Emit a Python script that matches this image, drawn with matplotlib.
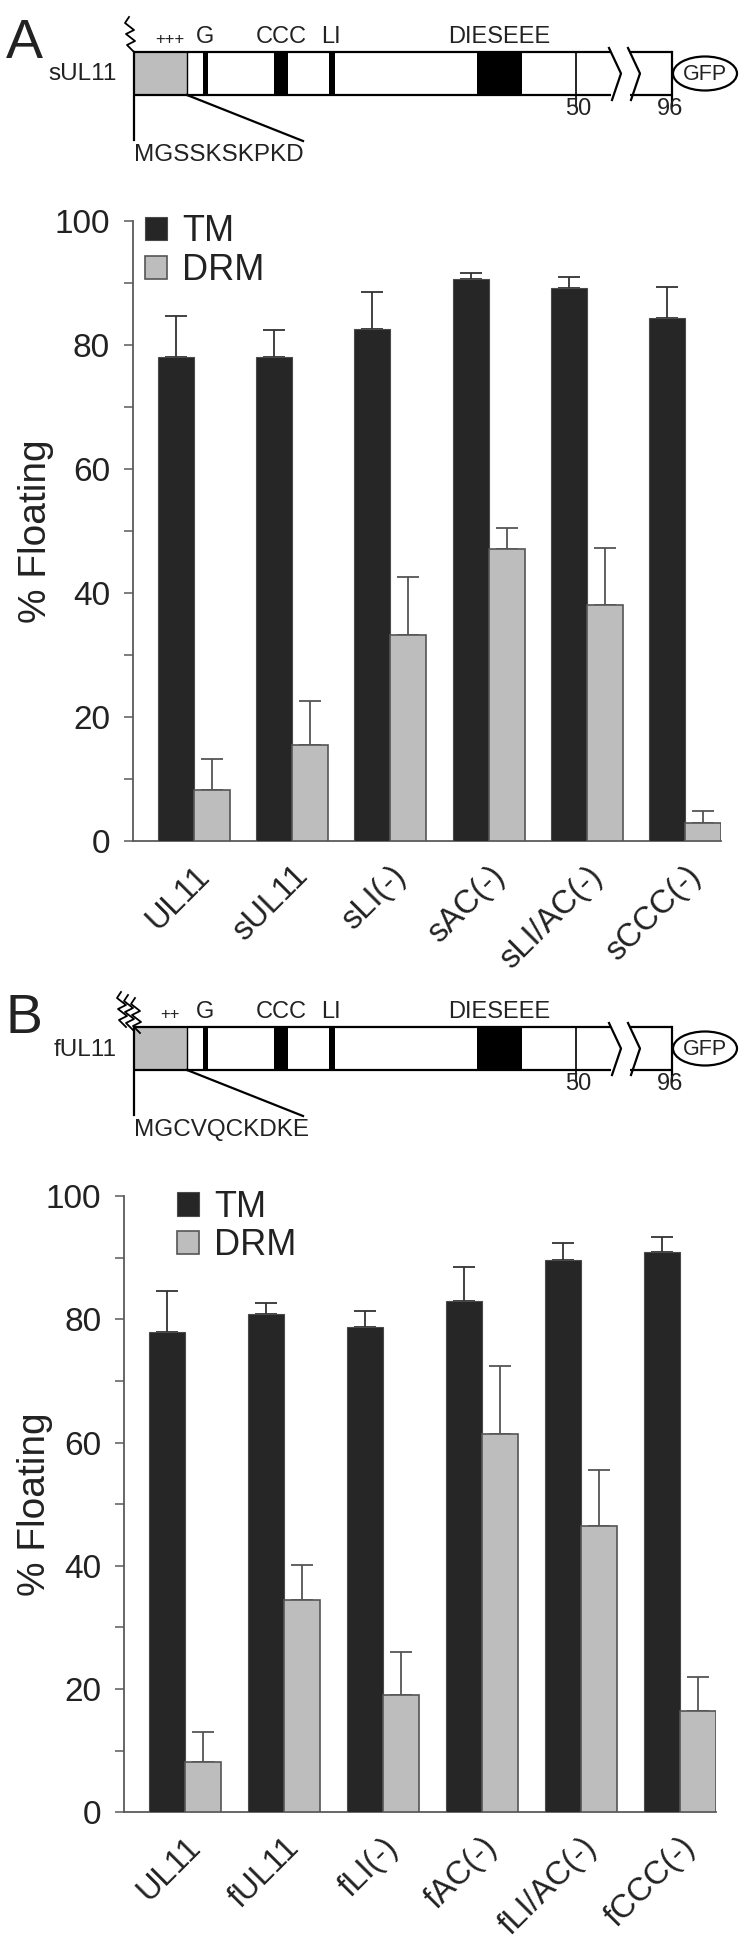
import matplotlib
matplotlib.use("Agg")
import matplotlib.pyplot as plt
from matplotlib.patches import Rectangle, Ellipse, Patch
import numpy as np

plt.rcParams['font.family'] = ['Liberation Sans', 'DejaVu Sans']

# ---------------- data ----------------
cats_A = ['UL11', 'sUL11', 'sLI(-)', 'sAC(-)', 'sLI/AC(-)', 'sCCC(-)']
tm_A = [78.1, 78.0, 82.6, 90.6, 89.1, 84.3]
tm_A_err = [6.6, 4.4, 5.9, 1.0, 1.8, 5.0]
drm_A = [8.3, 15.4, 33.2, 47.1, 38.1, 2.9]
drm_A_err = [5.0, 7.1, 9.3, 3.4, 9.1, 1.9]

cats_B = ['UL11', 'fUL11', 'fLI(-)', 'fAC(-)', 'fLI/AC(-)', 'fCCC(-)']
tm_B = [78.0, 80.8, 78.8, 82.9, 89.6, 90.9]
tm_B_err = [6.6, 1.8, 2.5, 5.6, 2.8, 2.5]
drm_B = [8.2, 34.4, 19.1, 61.4, 46.5, 16.5]
drm_B_err = [4.9, 5.8, 7.0, 11.1, 9.0, 5.4]

series_names = ['TM', 'DRM']
yticks = [0, 20, 40, 60, 80, 100]
yminor = [10, 30, 50, 70, 90]

W, H = 750, 1947
fig = plt.figure(figsize=(W / 100, H / 100), dpi=100)

TM_COL = '#262626'
DRM_COL = '#bdbdbd'
AX_COL = '#5a5a5a'
TXT = '#222222'

# ---------------- construct diagrams (pixel coordinates) ----------------
dax = fig.add_axes([0, 0, 1, 1], zorder=0)
dax.set_xlim(0, W)
dax.set_ylim(H, 0)
dax.axis('off')


def construct(y0, letter, name, nzig, plus, seq):
    lw = 1.6
    k = 'black'
    top, bot = y0 + 52, y0 + 95
    mid = (top + bot) / 2
    # grey N-terminal block
    dax.add_patch(Rectangle((134, top), 53, bot - top, facecolor=DRM_COL, edgecolor='none'))
    dax.plot([187, 187], [top, bot], color=k, lw=1.0)
    # box outline with break
    for xa, xb in [(134, 611), (630, 672)]:
        dax.plot([xa, xb], [top, top], color=k, lw=lw, solid_capstyle='butt')
        dax.plot([xa, xb], [bot, bot], color=k, lw=lw, solid_capstyle='butt')
    dax.plot([134, 134], [top, y0 + 140], color=k, lw=lw)
    dax.plot([672, 672], [top, y0 + 105], color=k, lw=lw)
    dax.plot([609, 621, 612], [top - 4, mid, bot + 5], color=k, lw=lw)
    dax.plot([628, 640, 631], [top - 4, mid, bot + 5], color=k, lw=lw)
    # motif blocks
    for xa, xb in [(203, 208), (274, 288), (329, 335), (477, 522)]:
        dax.add_patch(Rectangle((xa, top), xb - xa, bot - top, facecolor=k, edgecolor='none'))
    dax.plot([576, 576], [top, y0 + 105], color=k, lw=1.2)
    # GFP
    dax.add_patch(Ellipse((705, mid), 64, 34, facecolor='white', edgecolor=k, lw=lw))
    dax.text(705, mid + 1, 'GFP', ha='center', va='center', fontsize=15.5, color=TXT)
    # lipid squiggles
    for i in range(nzig):
        dx = i * 7
        xs = np.array([134, 127, 135, 126, 134, 125, 129]) - 4 + dx - (4 if nzig > 1 else -4)
        ys = np.array([52, 45, 41, 34, 30, 23, 17]) + y0 + (i * 3 if nzig > 1 else 0)
        dax.plot(xs, ys, color=k, lw=1.3)
    # labels
    dax.text(6, y0 + 44, letter, ha='left', va='center', fontsize=40, color=TXT)
    dax.text(117, mid + 1, name, ha='right', va='center', fontsize=17.5, color=TXT)
    dax.text(170, y0 + 47, plus, ha='center', va='bottom', fontsize=12, color=TXT)
    for s, x in [('G', 205), ('CCC', 281), ('LI', 331), ('DIESEEE', 499)]:
        dax.text(x, y0 + 48, s, ha='center', va='bottom', fontsize=17, color=TXT)
    dax.text(578, y0 + 98, '50', ha='center', va='top', fontsize=17, color=TXT)
    dax.text(670, y0 + 98, '96', ha='center', va='top', fontsize=17, color=TXT)
    # zoom lines and sequence
    dax.plot([187, 303], [bot, y0 + 141], color=k, lw=lw)
    dax.text(134, y0 + 144, seq, ha='left', va='top', fontsize=17.5, color=TXT)


construct(0, 'A', 'sUL11', 1, '+++', 'MGSSKSKPKD')
construct(975, 'B', 'fUL11', 3, '++', 'MGCVQCKDKE')


# ---------------- bar charts ----------------
def chart(rect, cats, tm, tmerr, drm, drmerr, w, xl, leg_anchor, ylab_x):
    ax = fig.add_axes(rect, zorder=2)
    ax.patch.set_alpha(0)
    x = np.arange(len(cats))
    ax.bar(x - w / 2, tm, w, color=TM_COL, edgecolor='#4a4a4a', linewidth=0.8, zorder=3)
    ax.bar(x + w / 2, drm, w, color=DRM_COL, edgecolor='#555555', linewidth=1.2, zorder=3)
    ax.errorbar(x - w / 2, tm, yerr=[np.zeros(len(tm)), tmerr], fmt='none',
                ecolor='#333333', elinewidth=1.3, capsize=8, capthick=1.3, zorder=2)
    ax.errorbar(x + w / 2, drm, yerr=[np.zeros(len(drm)), drmerr], fmt='none',
                ecolor='#555555', elinewidth=1.3, capsize=8, capthick=1.3, zorder=2)
    ax.set_xlim(*xl)
    ax.set_ylim(0, 100)
    for s in ['top', 'right']:
        ax.spines[s].set_visible(False)
    for s in ['left', 'bottom']:
        ax.spines[s].set_color(AX_COL)
        ax.spines[s].set_linewidth(1.3)
    ax.set_yticks(yticks)
    ax.set_yticks(yminor, minor=True)
    ax.tick_params(axis='y', which='both', direction='out', length=6.5, width=1.1,
                   color=AX_COL, labelsize=24, labelcolor=TXT, pad=10)
    ax.set_xticks(x)
    ax.set_xticklabels(cats)
    ax.tick_params(axis='x', length=0, labelsize=23.5, labelcolor=TXT, pad=14)
    for lab in ax.get_xticklabels():
        lab.set_rotation(45)
        lab.set_ha('right')
        lab.set_va('top')
        lab.set_rotation_mode('anchor')
    ax.set_ylabel('% Floating', fontsize=28, color=TXT)
    ax.yaxis.set_label_coords(ylab_x, 0.5)
    handles = [Patch(facecolor=TM_COL, edgecolor='#4a4a4a', linewidth=0.8),
               Patch(facecolor=DRM_COL, edgecolor='#555555', linewidth=1.2)]
    ax.legend(handles, series_names, loc='upper left', bbox_to_anchor=leg_anchor,
              frameon=False, fontsize=26, handlelength=0.62, handleheight=0.62,
              handletextpad=0.42, labelspacing=0.1, borderpad=0, borderaxespad=0,
              labelcolor=TXT)
    return ax


axA = chart([133 / W, (H - 841) / H, (721 - 133) / W, (841 - 220.7) / H],
            cats_A, tm_A, tm_A_err, drm_A, drm_A_err, 0.367, (-0.621, 5.367),
            (0.02, 1.01), -0.135)
axB = chart([124.3 / W, (H - 1812.4) / H, (715.5 - 124.3) / W, (1812.4 - 1196) / H],
            cats_B, tm_B, tm_B_err, drm_B, drm_B_err, 0.364, (-0.614, 5.364),
            (0.089, 1.01), -0.12)

fig.savefig('out.png', dpi=100)
